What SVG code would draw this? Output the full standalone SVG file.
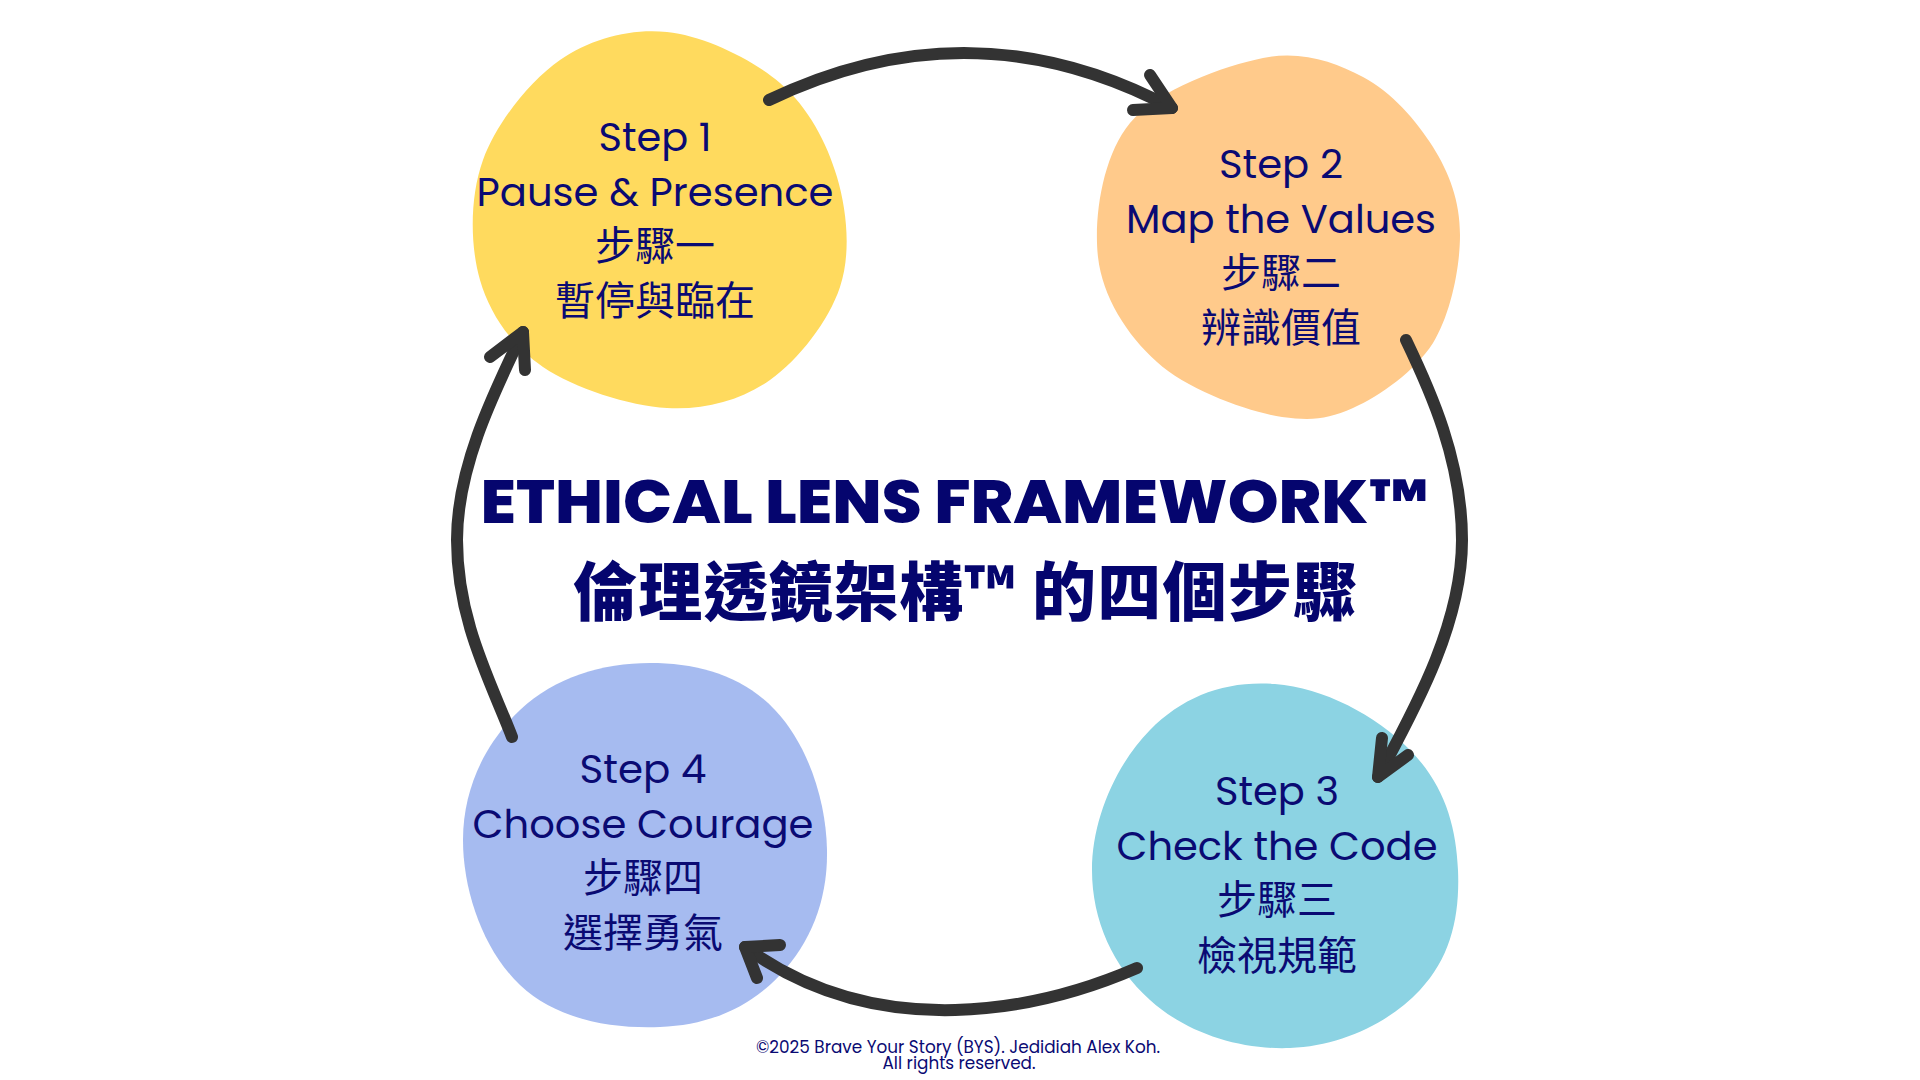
<svg xmlns="http://www.w3.org/2000/svg" width="1920" height="1080" viewBox="0 0 1920 1080">
  <style>
    .lbl { font-family: Poppins, Inter, "Noto Sans CJK TC", sans-serif; font-size: 40px; fill: #0a0a73; text-anchor: middle; }
    .cjk { font-family: "Noto Sans CJK TC", "Noto Sans CJK SC", sans-serif; font-size: 40px; fill: #0a0a73; text-anchor: middle; }
    .title { font-family: Poppins, Inter, "Noto Sans CJK TC", sans-serif; font-size: 62px; font-weight: 800; fill: #05056e; text-anchor: middle; }
    .titlecjk { font-family: "Noto Sans CJK TC", "Noto Sans CJK SC", sans-serif; font-size: 64px; font-weight: 900; fill: #05056e; text-anchor: middle; }
    .copy { font-family: Poppins, Inter, sans-serif; font-size: 17.5px; fill: #0a0a73; text-anchor: middle; }
    .conn { fill: none; stroke: #333333; stroke-width: 12; stroke-linecap: round; stroke-linejoin: round; }
  </style>
  <rect width="1920" height="1080" fill="#ffffff"/>

  <g id="step1">
    <path fill="#FFDA5E" d="M667,32 C703.7,35.8 751.7,58.8 780,83 C808.3,107.2 827,143 837,177 C847,211 851.2,253.2 840,287 C828.8,320.8 798.8,359.8 770,380 C741.2,400.2 704.8,410.2 667,408 C629.2,405.8 574.2,388.3 543,367 C511.8,345.7 490,314.5 480,280 C470,245.5 469.7,196.7 483,160 C496.3,123.3 529.3,81.3 560,60 C590.7,38.7 630.3,28.2 667,32 Z"/>
    <text class="lbl" x="655" y="151" textLength="113" lengthAdjust="spacingAndGlyphs">Step 1</text>
    <text class="lbl" x="655" y="206" textLength="357" lengthAdjust="spacingAndGlyphs">Pause &amp; Presence</text>
    <text class="cjk" x="655" y="260">步驟一</text>
    <text class="cjk" x="655" y="315">暫停與臨在</text>
  </g>

  <g id="step2">
    <path fill="#FFCA8B" d="M1263,58 C1301.8,50.3 1334.7,62.2 1363,77 C1391.3,91.8 1416.8,121 1433,147 C1449.2,173 1460,200.8 1460,235 C1460,268 1450.8,314 1433,343 C1415.2,371 1380,396 1353,408 C1327.5,419 1312.7,421 1282,417 C1249,412 1187.3,390 1157,362 C1126.7,335 1102.5,296.5 1098,257 C1093.5,217.5 1102.5,156.2 1130,123 C1157.5,89.8 1224.2,65.7 1263,58 Z"/>
    <text class="lbl" x="1281" y="178" textLength="124" lengthAdjust="spacingAndGlyphs">Step 2</text>
    <text class="lbl" x="1281" y="233" textLength="310" lengthAdjust="spacingAndGlyphs">Map the Values</text>
    <text class="cjk" x="1281" y="287">步驟二</text>
    <text class="cjk" x="1281" y="342">辨識價值</text>
  </g>

  <g id="step3">
    <path fill="#8CD3E3" d="M1275,684 C1323.5,687.7 1375.8,715.3 1410,750 C1444.2,784.7 1456.1,825.2 1458,870 C1459.9,914.8 1451.4,956.7 1420,990 C1388.6,1023.3 1340.4,1046.1 1290,1048 C1239.6,1049.9 1187,1033.3 1150,1000 C1113,966.7 1092,920.4 1092,870 C1092,819.6 1115.8,764.7 1150,730 C1184.2,695.3 1226.5,680.3 1275,684 Z"/>
    <text class="lbl" x="1277" y="805" textLength="124" lengthAdjust="spacingAndGlyphs">Step 3</text>
    <text class="lbl" x="1277" y="860" textLength="321" lengthAdjust="spacingAndGlyphs">Check the Code</text>
    <text class="cjk" x="1277" y="914">步驟三</text>
    <text class="cjk" x="1277" y="970">檢視規範</text>
  </g>

  <g id="step4">
    <path fill="#A6BBF0" d="M650,663 C697.6,663 742,675.1 775,710 C808,744.9 826.1,800.5 827,850 C827.9,899.5 811.2,942 780,975 C748.8,1008 708.5,1025.1 660,1027 C611.5,1028.9 556.8,1019.9 520,985 C483.2,950.1 463,891.3 463,840 C463,788.7 485.1,743 520,710 C554.9,677 602.4,663 650,663 Z"/>
    <text class="lbl" x="643" y="783" textLength="127" lengthAdjust="spacingAndGlyphs">Step 4</text>
    <text class="lbl" x="643" y="838" textLength="341" lengthAdjust="spacingAndGlyphs">Choose Courage</text>
    <text class="cjk" x="643" y="892">步驟四</text>
    <text class="cjk" x="643" y="947">選擇勇氣</text>
  </g>

  <g id="title">
    <text class="title" x="954" y="523" textLength="947" lengthAdjust="spacingAndGlyphs">ETHICAL LENS FRAMEWORK™</text>
    <text class="titlecjk" x="965" y="615" textLength="784" lengthAdjust="spacing">倫理透鏡架構™ 的四個步驟</text>
  </g>

  <g id="connectors">
    <path class="conn" d="M769,100 Q973,2 1172,108"/>
    <path class="conn" d="M1150,75 L1172,108 L1133,110"/>
    <path class="conn" d="M1406,340 C1430,390 1462,460 1462,540 C1462,620 1420,700 1378,777"/>
    <path class="conn" d="M1382,738 L1378,777 L1408,755"/>
    <path class="conn" d="M1137,968 C1040,1010 880,1045 745,947"/>
    <path class="conn" d="M780,945 L745,947 L757,978"/>
    <path class="conn" d="M512,737 C490,680 457,620 457,540 C457,470 490,400 523,332"/>
    <path class="conn" d="M490,357 L523,332 L525,370"/>
  </g>

  <g id="footer">
    <text class="copy" x="958" y="1053" textLength="404" lengthAdjust="spacingAndGlyphs">©2025 Brave Your Story (BYS). Jedidiah Alex Koh.</text>
    <text class="copy" x="959" y="1069" textLength="153" lengthAdjust="spacingAndGlyphs">All rights reserved.</text>
  </g>
</svg>
